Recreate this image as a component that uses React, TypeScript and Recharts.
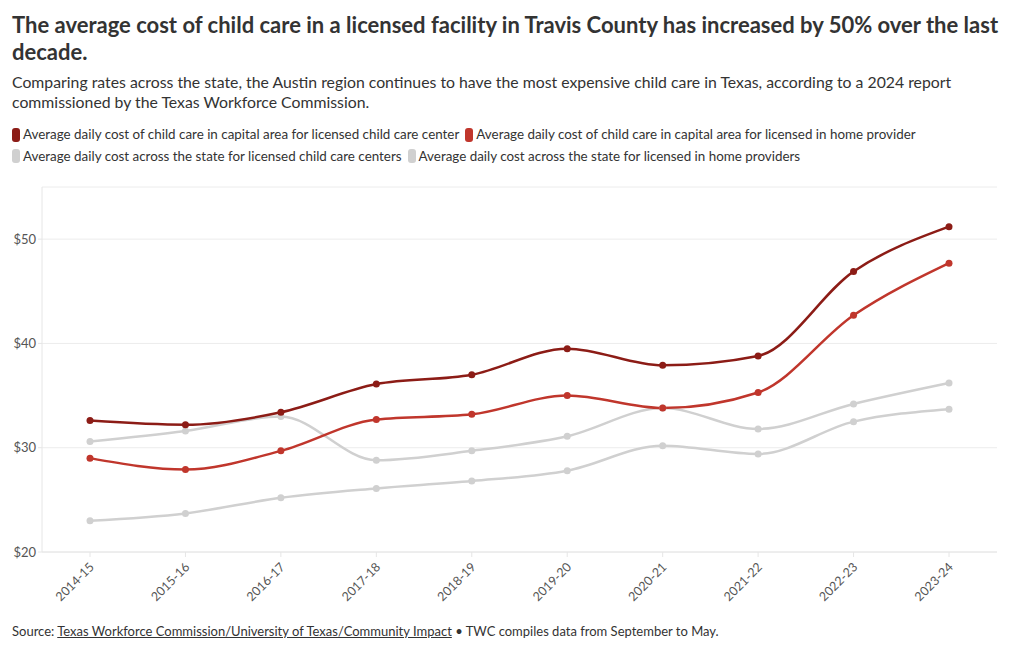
import React from "react";
import { LineChart, Line, XAxis, YAxis, CartesianGrid } from "recharts";

const categories = ["2014-15", "2015-16", "2016-17", "2017-18", "2018-19", "2019-20", "2020-21", "2021-22", "2022-23", "2023-24"];
const capitalCenter = [32.6, 32.2, 33.4, 36.1, 37.0, 39.5, 37.9, 38.8, 46.9, 51.2];
const capitalHome = [29.0, 27.9, 29.7, 32.7, 33.2, 35.0, 33.8, 35.3, 42.7, 47.7];
const stateCenter = [30.6, 31.6, 33.0, 28.8, 29.7, 31.1, 33.8, 31.8, 34.2, 36.2];
const stateHome = [23.0, 23.7, 25.2, 26.1, 26.8, 27.8, 30.2, 29.4, 32.5, 33.7];
const yTicks = [20, 30, 40, 50];

const seriesNames = [
  "Average daily cost of child care in capital area for licensed child care center",
  "Average daily cost of child care in capital area for licensed in home provider",
  "Average daily cost across the state for licensed child care centers",
  "Average daily cost across the state for licensed in home providers",
];
const seriesKeys = ["capitalCenter", "capitalHome", "stateCenter", "stateHome"];
const seriesColors = ["#8c1c16", "#c0362c", "#d0d0d0", "#d0d0d0"];

const data = categories.map((c, i) => ({
  year: c,
  capitalCenter: capitalCenter[i],
  capitalHome: capitalHome[i],
  stateCenter: stateCenter[i],
  stateHome: stateHome[i],
}));

const FONT = "'Source Sans Pro', Lato, 'Noto Sans', sans-serif";

const XTick = (props: any) => {
  const { x, y, payload } = props;
  return (
    <text
      x={x + 2}
      y={y + 6}
      textAnchor="end"
      fontSize={12.5}
      fill="#555"
      fontFamily={FONT}
      transform={`rotate(-45, ${x + 2}, ${y + 6})`}
      dy={4}
    >
      {payload.value}
    </text>
  );
};

const LegendItem = ({ name, color }: { name: string; color: string }) => (
  <span style={{ display: "inline-flex", alignItems: "center", marginRight: 6 }}>
    <span
      style={{
        display: "inline-block",
        width: 8,
        height: 14,
        borderRadius: 3,
        background: color,
        marginRight: 3,
      }}
    />
    <span>{name}</span>
  </span>
);

export default function App() {
  const order = [3, 2, 1, 0];
  return (
    <div
      style={{
        position: "absolute",
        left: 0,
        top: 0,
        width: 1020,
        height: 650,
        background: "#fff",
        fontFamily: FONT,
        color: "#333",
      }}
    >
      <div
        style={{
          position: "absolute",
          left: 12,
          top: 11,
          width: 1000,
          fontSize: 22,
          fontWeight: 700,
          lineHeight: "27px",
          color: "#333",
        }}
      >
        The average cost of child care in a licensed facility in Travis County has increased by 50% over the last decade.
      </div>
      <div
        style={{
          position: "absolute",
          left: 12,
          top: 72,
          width: 1000,
          fontSize: 15.8,
          lineHeight: "20px",
          color: "#333",
        }}
      >
        Comparing rates across the state, the Austin region continues to have the most expensive child care in Texas, according to a 2024 report commissioned by the Texas Workforce Commission.
      </div>
      <div
        style={{
          position: "absolute",
          left: 12,
          top: 125,
          width: 1000,
          fontSize: 13.4,
          lineHeight: "19px",
          color: "#333",
        }}
      >
        <div>
          <LegendItem name={seriesNames[0]} color={seriesColors[0]} />
          <LegendItem name={seriesNames[1]} color={seriesColors[1]} />
        </div>
        <div>
          <LegendItem name={seriesNames[2]} color={seriesColors[2]} />
          <LegendItem name={seriesNames[3]} color={seriesColors[3]} />
        </div>
      </div>
      <div style={{ position: "absolute", left: 0, top: 173 }}>
        <LineChart
          width={1020}
          height={444}
          data={data}
          margin={{ top: 14, right: 23, left: 0, bottom: 0 }}
        >
          <CartesianGrid vertical={false} stroke="#ececec" />
          <XAxis
            dataKey="year"
            height={65}
            tick={<XTick />}
            tickLine={{ stroke: "#e6e6e6" }}
            axisLine={{ stroke: "#e6e6e6" }}
            tickSize={5}
            interval={0}
            padding={{ left: 48, right: 48 }}
          />
          <YAxis
            width={42}
            domain={[20, 55]}
            ticks={yTicks}
            tickFormatter={(v: number) => `$${v}`}
            tick={{ fontSize: 13, fill: "#555", fontFamily: FONT }}
            tickLine={{ stroke: "#e6e6e6" }}
            axisLine={{ stroke: "#e6e6e6" }}
            tickSize={4}
            allowDataOverflow
          />
          {order.map((i) => (
            <Line
              key={seriesKeys[i]}
              type="monotone"
              dataKey={seriesKeys[i]}
              name={seriesNames[i]}
              stroke={seriesColors[i]}
              strokeWidth={2.5}
              dot={{ r: 3.5, fill: seriesColors[i], stroke: seriesColors[i], strokeWidth: 0 }}
              isAnimationActive={false}
            />
          ))}
        </LineChart>
      </div>
      <div
        style={{
          position: "absolute",
          left: 12,
          top: 623,
          fontSize: 13,
          color: "#333",
        }}
      >
        Source: <span style={{ textDecoration: "underline" }}>Texas Workforce Commission/University of Texas/Community Impact</span> • TWC compiles data from September to May.
      </div>
    </div>
  );
}
